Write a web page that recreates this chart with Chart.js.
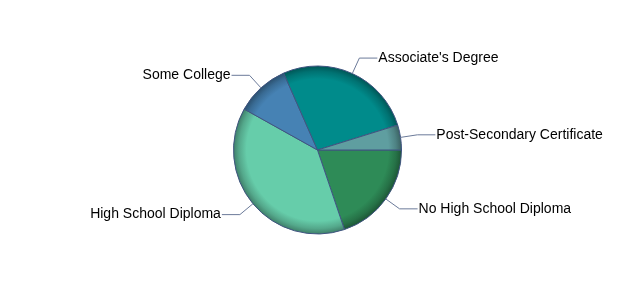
<!DOCTYPE html>
<html>
<head>
<meta charset="utf-8">
<script src="https://cdn.jsdelivr.net/npm/chart.js@4"></script>
<style>
  html, body { margin: 0; padding: 0; background: #fff; }
  #wrap { width: 635px; height: 300px; }
</style>
</head>
<body>
<div id="wrap"><canvas id="pieChart" width="635" height="300"></canvas></div>
<script>
// Education attainment (order = clockwise from 3 o'clock)
const labels = ['No High School Diploma', 'High School Diploma', 'Some College', "Associate's Degree", 'Post-Secondary Certificate'];
const values = [19.8, 38.3, 10.3, 26.8, 4.8];
const colors = ['#2E8B57', '#66CDAA', '#4682B4', '#008B8B', '#5F9EA0'];

function shade(hex, f) {
    const n = parseInt(hex.slice(1), 16);
    const r = Math.round(((n >> 16) & 255) * f);
    const g = Math.round(((n >> 8) & 255) * f);
    const b = Math.round((n & 255) * f);
    return `rgb(${r},${g},${b})`;
}

// darker rim, like a bevel
function sliceFill(context) {
    const base = colors[context.dataIndex];
    const chart = context.chart;
    const area = chart.chartArea;
    if (!area) return base;
    const cx = (area.left + area.right) / 2;
    const cy = (area.top + area.bottom) / 2;
    const r = Math.min(area.right - area.left, area.bottom - area.top) / 2;
    const grad = chart.ctx.createRadialGradient(cx, cy, 0, cx, cy, r);
    grad.addColorStop(0, base);
    grad.addColorStop(0.84, base);
    grad.addColorStop(0.93, shade(base, 0.82));
    grad.addColorStop(1, shade(base, 0.6));
    return grad;
}

// outside labels with leader lines
const leaderLabels = {
    id: 'leaderLabels',
    afterDatasetsDraw(chart) {
        const ctx = chart.ctx;
        const meta = chart.getDatasetMeta(0);
        ctx.save();
        ctx.font = '14px "Liberation Sans", Arial, sans-serif';
        ctx.textBaseline = 'middle';
        ctx.strokeStyle = '#6b7a99';
        ctx.lineWidth = 1;
        meta.data.forEach((arc, i) => {
            const mid = (arc.startAngle + arc.endAngle) / 2;
            const cos = Math.cos(mid), sin = Math.sin(mid);
            const x0 = arc.x + cos * arc.outerRadius;
            const y0 = arc.y + sin * arc.outerRadius;
            const x1 = arc.x + cos * (arc.outerRadius + 17);
            const y1 = arc.y + sin * (arc.outerRadius + 17);
            const right = cos >= 0;
            const x2 = x1 + (right ? 18 : -18);
            ctx.beginPath();
            ctx.moveTo(x0, y0);
            ctx.lineTo(x1, y1);
            ctx.lineTo(x2, y1);
            ctx.stroke();
            ctx.fillStyle = '#000';
            ctx.textAlign = right ? 'left' : 'right';
            ctx.fillText(labels[i], x2 + (right ? 1 : -1), y1);
        });
        ctx.restore();
    }
};

new Chart(document.getElementById('pieChart').getContext('2d'), {
    type: 'pie',
    data: {
        labels: labels,
        datasets: [{
            data: values,
            backgroundColor: sliceFill,
            borderColor: '#3f5480',
            borderWidth: 1
        }]
    },
    options: {
        responsive: false,
        animation: false,
        rotation: 90,
        layout: { padding: { top: 65.5, bottom: 65.5, left: 0, right: 0 } },
        plugins: {
            legend: { display: false },
            tooltip: { enabled: false }
        }
    },
    plugins: [leaderLabels]
});
</script>
</body>
</html>
